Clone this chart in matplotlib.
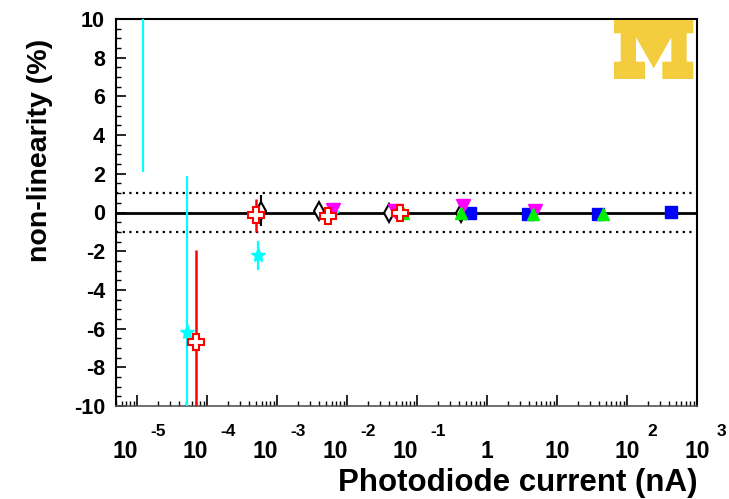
import matplotlib
matplotlib.use("Agg")
import matplotlib.pyplot as plt
from matplotlib.patches import Polygon
from matplotlib.ticker import LogLocator, MultipleLocator, NullFormatter
import matplotlib.transforms as mtransforms

plt.rcParams['font.family'] = ['Liberation Sans', 'DejaVu Sans']
plt.rcParams['font.weight'] = 'bold'
plt.rcParams['axes.unicode_minus'] = False

# ---- data (photodiode current in nA, non-linearity in %) ----
cyan_x = [1.22e-5, 5.2e-5, 5.35e-4, 6.1e-3]
cyan_y = [14.0, -6.2, -2.2, 0.0]
cyan_err = [11.9, 8.1, 0.75, 0.05]

red_x = [7.0e-5, 5.0e-4, 5.4e-3, 5.7e-2]
red_y = [-6.7, -0.15, -0.2, 0.0]
red_err = [4.75, 0.87, 0.1, 0.05]

black_x = [5.9e-4, 4.0e-3, 4.0e-2, 0.43]
black_y = [0.1, 0.1, 0.0, 0.0]
black_err = [0.8, 0.05, 0.05, 0.05]

magenta_x = [6.3e-3, 4.9e-2, 0.46, 4.9]
magenta_y = [0.15, 0.1, 0.36, 0.1]

green_x = [6.3e-2, 0.43, 4.5, 46.0]
green_y = [0.0, 0.0, -0.1, -0.1]

blue_x = [0.57, 3.9, 38.5, 430.0]
blue_y = [-0.05, -0.1, -0.1, 0.05]

x_tick_exponents = [-5, -4, -3, -2, -1, 0, 1, 2, 3]
y_ticks = [-10, -8, -6, -4, -2, 0, 2, 4, 6, 8, 10]

W, H = 729, 499
fig = plt.figure(figsize=(W / 100, H / 100), dpi=100)
ax = fig.add_axes([116 / W, 1 - 406 / H, (697 - 116) / W, (406 - 19) / H])

ax.set_xscale('log')
ax.set_xlim(5e-6, 1e3)
ax.set_ylim(-10, 10)

# reference lines
ax.axhline(0, color='black', lw=2, zorder=1)
ax.axhline(1, color='black', lw=1.6, ls=(0, (1, 2)), zorder=1)
ax.axhline(-1, color='black', lw=1.6, ls=(0, (1, 2)), zorder=1)

# series
ax.errorbar(cyan_x, cyan_y, yerr=cyan_err, fmt='*', color='#00FFFF', ms=11,
            elinewidth=1.6, capsize=0, zorder=3)
ax.errorbar(black_x, black_y, yerr=black_err, fmt='d', color='black',
            mfc='white', mec='black', mew=1.5, ms=9, elinewidth=1.5, capsize=0, zorder=3)
ax.plot(blue_x, blue_y, 's', color='#0000FF', ms=9, zorder=4)
ax.plot(magenta_x, magenta_y, 'v', color='#FF00FF', ms=9.5, zorder=4)
ax.errorbar(red_x, red_y, yerr=red_err, fmt='P', color='#FF0000', mfc='white',
            mec='#FF0000', mew=1.5, ms=11, elinewidth=1.8, capsize=0, zorder=5)
ax.plot(green_x, green_y, '^', color='#00F000', ms=9, zorder=5)

# axes styling
for s in ax.spines.values():
    s.set_color('black')
    s.set_linewidth(1.5)
ax.spines['bottom'].set_color('#555555')
ax.spines['bottom'].set_linewidth(1.2)

ax.set_yticks(y_ticks)
ax.yaxis.set_minor_locator(MultipleLocator(0.5))
ax.tick_params(axis='y', which='major', direction='in', length=7.2, width=1.2,
               left=True, right=False, labelsize=15.5, pad=8)
ax.tick_params(axis='y', which='minor', direction='in', length=3.6, width=1.0,
               left=True, right=False)

ax.xaxis.set_major_locator(LogLocator(base=10, numticks=20))
ax.xaxis.set_minor_locator(LogLocator(base=10, subs=[2, 3, 4, 5, 6, 7, 8, 9], numticks=20))
ax.xaxis.set_major_formatter(NullFormatter())
ax.xaxis.set_minor_formatter(NullFormatter())
ax.tick_params(axis='x', which='major', direction='in', length=8, width=1.2,
               bottom=True, top=False)
ax.tick_params(axis='x', which='minor', direction='in', length=3.6, width=1.0,
               bottom=True, top=False)
for lbl in ax.get_yticklabels():
    lbl.set_fontweight('bold')

# x tick labels in ROOT style
trans = ax.get_xaxis_transform()
for e in x_tick_exponents:
    v = 10.0 ** e
    if e in (0, 1):
        t = mtransforms.offset_copy(trans, fig=fig, x=0, y=-52, units='dots')
        ax.text(v, 0, '1' if e == 0 else '10', transform=t, ha='center',
                va='baseline', fontsize=16.5, fontweight='bold', clip_on=False)
    else:
        if e < 0:
            bx, ex = 1, 13
        else:
            bx, ex = 13, 20
        tb = mtransforms.offset_copy(trans, fig=fig, x=bx, y=-52, units='dots')
        ax.text(v, 0, '10', transform=tb, ha='right', va='baseline',
                fontsize=16.5, fontweight='bold', clip_on=False)
        te = mtransforms.offset_copy(trans, fig=fig, x=ex, y=-30, units='dots')
        ax.text(v, 0, str(e), transform=te, ha='left', va='baseline',
                fontsize=12.5, fontweight='bold', clip_on=False)

# axis titles
fig.text(697 / W, 1 - 491 / H, 'Photodiode current (nA)', ha='right', va='baseline',
         fontsize=22.5, fontweight='bold')
fig.text(40 / W, 1 - 39 / H, 'non-linearity (%)', rotation=90, ha='center', va='top',
         fontsize=20.5, fontweight='bold')

# block M logo
mz = [(42, 60), (280, 60), (280, 100), (260, 100), (260, 185), (280, 185), (280, 237),
      (187, 237), (187, 185), (214, 185), (214, 112), (161, 205), (108, 112), (108, 185),
      (135, 185), (135, 237), (42, 237), (42, 185), (62, 185), (62, 100), (42, 100)]
pts = [((600 + zx / 3) / W, 1 - (zy / 3) / H) for zx, zy in mz]
fig.add_artist(Polygon(pts, closed=True, transform=fig.transFigure,
                       facecolor='#F4CD3F', edgecolor='none', zorder=10))

fig.savefig('out.png', dpi=100)
